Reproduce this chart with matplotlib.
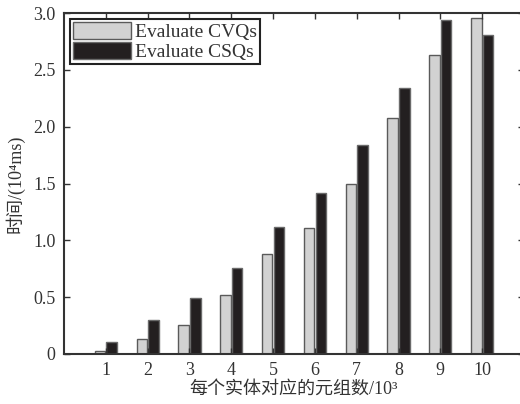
import numpy as np
import matplotlib
matplotlib.use("Agg")
import matplotlib.pyplot as plt

plt.rcParams['font.family'] = ['Liberation Serif', 'Noto Sans CJK SC']

# data (unit: 10^4 ms)
tuples = [1, 2, 3, 4, 5, 6, 7, 8, 9, 10]
cvq_time = [0.03, 0.13, 0.255, 0.52, 0.88, 1.11, 1.50, 2.08, 2.63, 2.955]
csq_time = [0.105, 0.30, 0.49, 0.76, 1.12, 1.42, 1.84, 2.34, 2.94, 2.81]
y_ticks = [0, 0.5, 1.0, 1.5, 2.0, 2.5, 3.0]
y_tick_labels = ['0', '0.5', '1.0', '1.5', '2.0', '2.5', '3.0']

fig = plt.figure(figsize=(5.2, 4.04), dpi=100)
# axes runs a little past the right edge, like the cropped original
ax = fig.add_axes([64 / 520, 50 / 404, 460 / 520, 341 / 404])

x = np.array(tuples)
w = 0.25
ax.bar(x - 0.14, cvq_time, w, color='#d2d2d2', edgecolor='#5a5a5a', linewidth=1.0,
       label='Evaluate CVQs')
ax.bar(x + 0.14, csq_time, w, color='#231f20', edgecolor='#6a6a6a', linewidth=1.0,
       label='Evaluate CSQs')

ax.set_xlim(0, 11)
ax.set_ylim(0, 3.0)
ax.set_xticks(tuples)
ax.set_yticks(y_ticks)
ax.set_yticklabels(y_tick_labels)
ax.tick_params(direction='in', top=True, right=True, labelsize=13, length=4,
               width=1, color='#333333', pad=6, labelcolor='#333333')

for s in ax.spines.values():
    s.set_linewidth(1.5)
    s.set_color('#333333')
ax.spines['right'].set_visible(False)

ax.set_xlabel('每个实体对应的元组数/10³', fontsize=13, labelpad=1, color='#333333')
ax.set_ylabel('时间/(10⁴ms)', fontsize=13, labelpad=6, color='#333333')

leg = ax.legend(loc='upper left', fontsize=14, frameon=True, fancybox=False,
                borderpad=0.15, handlelength=3.0, handleheight=1.0,
                handletextpad=0.2, labelspacing=0.05, borderaxespad=0.3)
leg.get_frame().set_edgecolor('#222222')
leg.get_frame().set_linewidth(1.5)
leg.get_frame().set_alpha(1)
for t in leg.get_texts():
    t.set_color('#333333')

fig.savefig('out.png', dpi=100)
